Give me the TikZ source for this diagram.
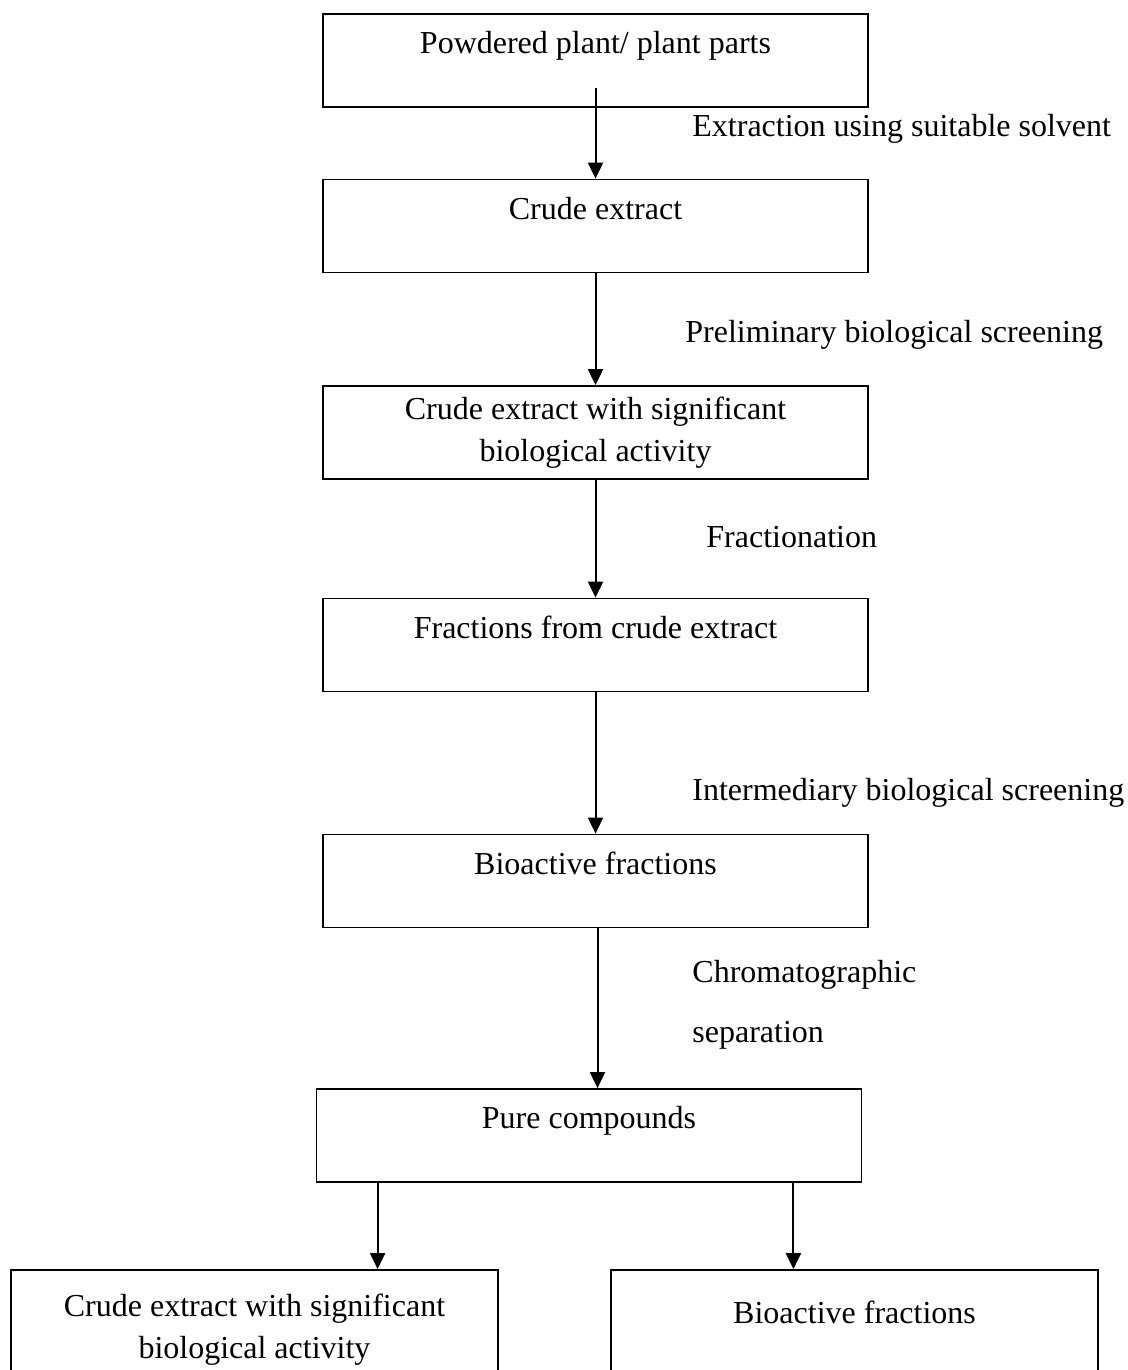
\documentclass[tikz,border=0pt]{standalone}
\usepackage{fontspec}
\setmainfont{Liberation Serif}
\usetikzlibrary{calc,arrows.meta}

\begin{document}
\begin{tikzpicture}[>={Triangle[length=8pt,width=7.5pt]},x=0.5pt,y=-0.5pt,
  font=\fontsize{16}{21}\selectfont,
  box/.style={draw,line width=0.9pt,minimum width=272.5pt,minimum height=46.5pt,inner sep=0pt,align=center},
  toptext/.style={text height=12pt,text depth=19pt},
  leaf/.style={box,minimum width=243.5pt,minimum height=60pt},
  arr/.style={->,line width=1pt},
  note/.style={anchor=west,inner sep=0pt,align=left}]
  \useasboundingbox (0,0) rectangle (1128,1370);
  % main column of boxes
  \node[box,toptext] (powder) at (595.5,60.5) {Powdered plant/ plant parts};
  \node[box,toptext] (crude) at (595.5,226) {Crude extract};
  \node[box] (active) at (595.5,432.5) {Crude extract with significant\\biological activity};
  \node[box,toptext] (fract) at (595.5,645) {Fractions from crude extract};
  \node[box,toptext] (biofract) at (595.5,881) {Bioactive fractions};
  \node[box,toptext] (pure) at (589,1135.5) {Pure compounds};
  % the two boxes at the foot, cut by the page edge
  \node[leaf] (leftleaf) at (254.5,1330) {Crude extract with significant\\biological activity};
  \node[leaf,toptext] (rightleaf) at (854.5,1330) {Bioactive fractions};
  % steps
  \draw[arr] ([yshift=10pt]powder.south) -- (crude.north);
  \draw[arr] (crude.south) -- (active.north);
  \draw[arr] (active.south) -- (fract.north);
  \draw[arr] (fract.south) -- (biofract.north);
  \draw[arr] ([xshift=1pt]biofract.south) -- ([xshift=1pt]biofract.south |- pure.north);
  \draw[arr] ([xshift=31pt]pure.south west) -- ([xshift=31pt]pure.south west |- leftleaf.north);
  \draw[arr] ([xshift=-34.5pt]pure.south east) -- ([xshift=-34.5pt]pure.south east |- rightleaf.north);
  % step labels
  \node[note] (extr) at (692,129) {Extraction using suitable solvent};
  \node[note] (prelim) at (685,335) {Preliminary biological screening};
  \node[note] (fractn) at (706,537) {Fractionation};
  \node[note] (interm) at (692,793) {Intermediary biological screening};
  \node[note] (chrom) at (692,1005) {Chromatographic\\[9pt]separation};
\end{tikzpicture}
\end{document}
